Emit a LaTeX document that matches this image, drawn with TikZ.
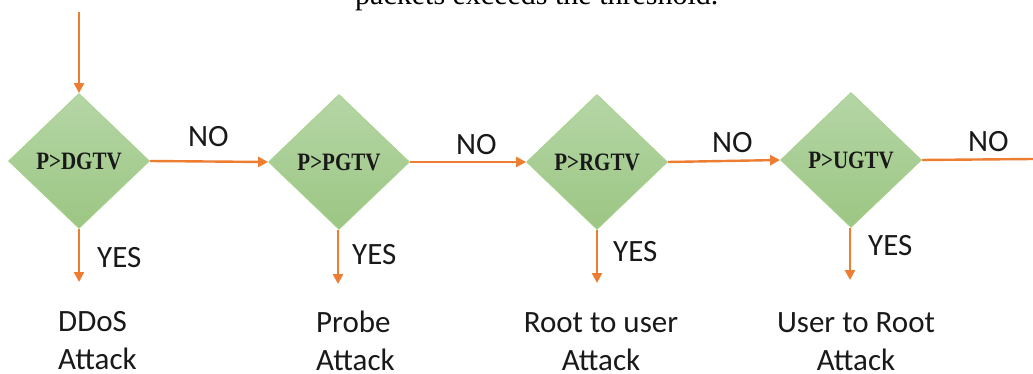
\documentclass[tikz,border=0pt]{standalone}
\usepackage{fontspec}
\setmainfont{Liberation Serif}
\newfontfamily\lblfont{Carlito}
\newfontfamily\testfont{Liberation Serif}[FakeStretch=0.84]
\usetikzlibrary{arrows.meta,shapes.geometric,positioning}
\definecolor{flowarrow}{HTML}{ED7D31}
\definecolor{testtop}{HTML}{B5D6A6}
\definecolor{testbot}{HTML}{9CC683}
\definecolor{testedge}{HTML}{A9D18E}
\tikzset{
  test/.style={diamond, minimum width=141pt, minimum height=135pt, inner sep=0pt,
    draw=testedge, line width=0.8pt, top color=testtop, bottom color=testbot,
    text=black!90, font=\testfont\fontsize{25}{25}\selectfont\bfseries},
  flow/.style={flowarrow, line width=2.4pt, -{Triangle[length=10pt,width=10pt]}},
  ans/.style={inner sep=0pt, text=black!90, font=\lblfont\fontsize{31}{31}\selectfont},
  result/.style={inner sep=0pt, text=black!90, font=\lblfont\fontsize{31}{38}\selectfont}
}

\begin{document}
\begin{tikzpicture}[x=1pt, y=-1pt]
\useasboundingbox (0,0) rectangle (1033,374);
% cut-off line of running text above the chart
\node[inner sep=0pt, anchor=base west, font=\fontsize{30}{30}\selectfont] (cap) at (355,5) {packets exceeds the threshold.};

% the four threshold tests
\coordinate (start) at (79,12);
\node[test] (ddos) at (79,161) {P>DGTV};
\node[test] (probe) at (339,162) {P>PGTV};
\node[test] (rtu) at (597,162) {P>RGTV};
\node[test] (utr) at (851,160) {P>UGTV};
\coordinate (out) at (1033,159);

% outcomes
\coordinate (ddosend) at (79,282);
\coordinate (probeend) at (338,284);
\coordinate (rtuend) at (597,283);
\coordinate (utrend) at (850,280);
\node[result, align=left, anchor=north west] (ddosres) at (58,311) {DDoS\\Attack};
\node[result, align=left, anchor=north west] (probres) at (316,311) {Probe\\Attack};
\node[result, align=center, anchor=north] (rtures) at (601,312) {Root to user\\Attack};
\node[result, align=center, anchor=north] (utrres) at (856,312) {User to Root\\Attack};

% connectors
\draw[flow] (start) -- (ddos.north);
\draw[flow] (ddos.east) -- (probe.west);
\draw[flow] (probe.east) -- (rtu.west);
\draw[flow] (rtu.east) -- (utr.west);
\draw[flowarrow, line width=2.4pt] (utr.east) -- (out);
\draw[flow] (ddos.south) -- (ddosend);
\draw[flow] (probe.south -| probeend) -- (probeend);
\draw[flow] (rtu.south) -- (rtuend);
\draw[flow] (utr.south -| utrend) -- (utrend);

% NO / YES labels
\node[ans, anchor=base west] (no1) at (188,147) {NO};
\node[ans, anchor=base west] (no2) at (456,155) {NO};
\node[ans, anchor=base west] (no3) at (712,153) {NO};
\node[ans, anchor=base west] (no4) at (968,152) {NO};
\node[ans, anchor=base west] (yes1) at (97,267) {YES};
\node[ans, anchor=base west] (yes2) at (352,264) {YES};
\node[ans, anchor=base west] (yes3) at (613,261) {YES};
\node[ans, anchor=base west] (yes4) at (868,255) {YES};
\end{tikzpicture}
\end{document}
